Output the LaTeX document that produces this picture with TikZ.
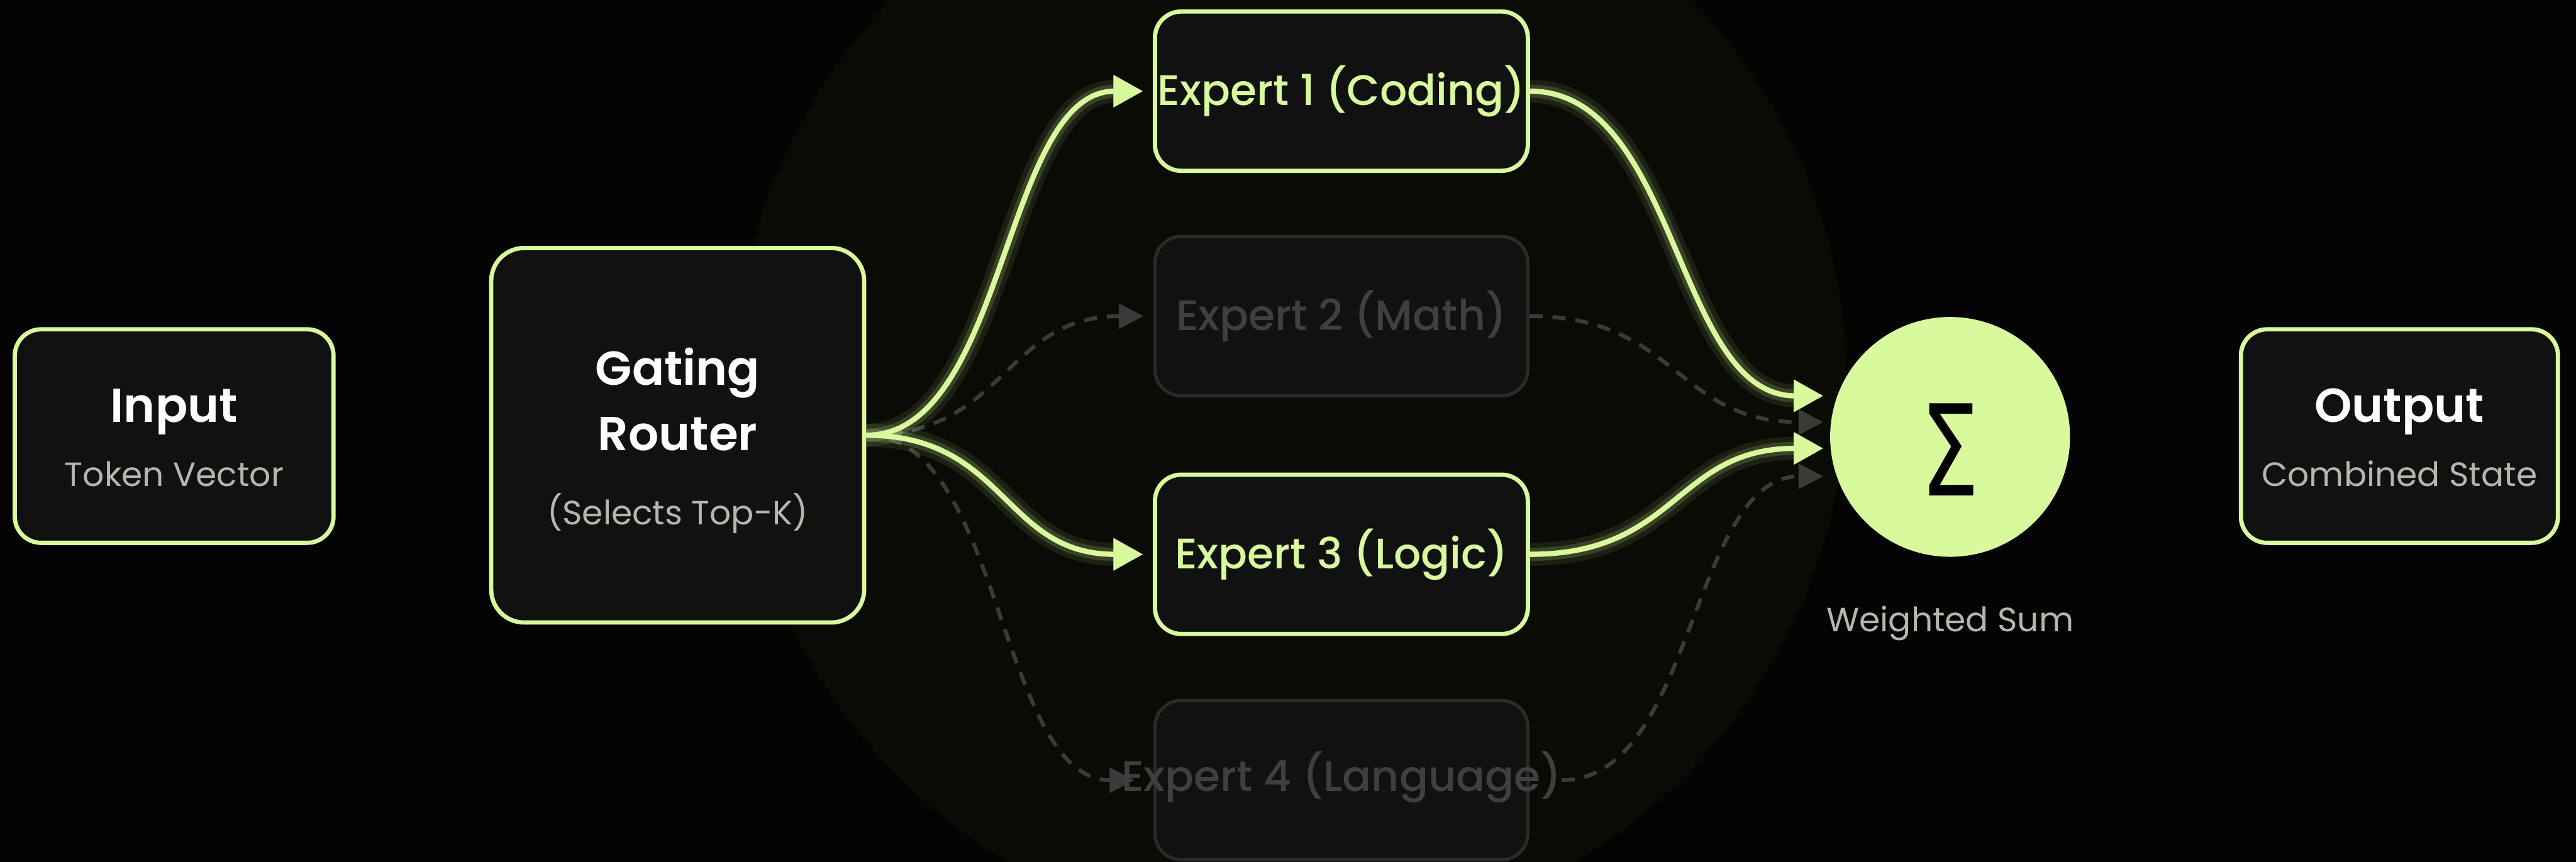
\documentclass[tikz,border=0pt]{standalone}
\usepackage{fontspec}
\setmainfont{Poppins}
\newfontfamily\medfont{Poppins Medium}
\newfontfamily\semifont{Poppins SemiBold}
\newfontfamily\sigfont{DejaVu Sans}
\usetikzlibrary{arrows.meta,positioning,backgrounds}
\definecolor{mlime}{HTML}{D9F99D}
\definecolor{bgc}{HTML}{040404}
\definecolor{halo}{HTML}{0A0B05}
\definecolor{boxfill}{HTML}{111111}
\definecolor{subc}{HTML}{B2B8AC}
\definecolor{idle}{HTML}{2A2A2A}
\definecolor{idletxt}{HTML}{3F3F3F}
\definecolor{idleln}{HTML}{3A3A3A}
\tikzset{
  box/.style={draw=mlime,line width=2.6pt,rounded corners=16pt,fill=boxfill,inner sep=0pt},
  ibox/.style={box,draw=idle,line width=2pt},
  xbox/.style={box,minimum width=227pt,minimum height=97pt,font=\medfont\fontsize{26}{30}\selectfont,text=mlime},
  ttl/.style={font=\semifont\fontsize{29}{34}\selectfont,text=white,anchor=base,inner sep=0pt},
  sub/.style={font=\fontsize{20.5}{24}\selectfont,text=subc,anchor=base,inner sep=0pt},
  live/.style={draw=mlime,line width=3.2pt,-{Triangle[length=18pt,width=19pt]},
    preaction={draw=mlime,line width=14pt,opacity=0.09},
    preaction={draw=mlime,line width=8pt,opacity=0.16}},
  idl/.style={draw=idleln,line width=2.4pt,dash pattern=on 8pt off 6pt,-{Triangle[length=15pt,width=15pt]}},
}

\begin{document}
\begin{tikzpicture}[x=1pt,y=-1pt]
\useasboundingbox (0,0) rectangle (1568,524.8);
\begin{pgfonlayer}{background}
\fill[bgc] (0,0) rectangle (1568,524.8);
\fill[halo] (786,234) circle [radius=338pt];
\end{pgfonlayer}

% ---- input and router ----
\node[box,minimum width=194pt,minimum height=130pt] (inp) at (106,265.5) {};
\node[ttl] (inpT) at (106,257) {Input};
\node[sub] (inpS) at (106,296) {Token Vector};

\node[box,rounded corners=20pt,minimum width=227pt,minimum height=228pt] (gate) at (412.5,265) {};
\node[ttl] (gateA) at (412.5,234.4) {Gating};
\node[ttl] (gateB) at (412.5,274.4) {Router};
\node[sub] (gateC) at (412.5,319.5) {(Selects Top-K)};

% ---- experts ----
\node[xbox] (e1) at (816.5,55.5) {Expert 1 (Coding)};
\node[xbox,ibox,text=idletxt] (e2) at (816.5,192.5) {Expert 2 (Math)};
\node[xbox] (e3) at (816.5,337.5) {Expert 3 (Logic)};
% text of expert 4 is wider than its box
\node[xbox,ibox] (e4) at (816.5,475) {};
\node[font=\medfont\fontsize{26}{30}\selectfont,text=idletxt,inner sep=0pt] (e4T) at (816.5,473) {Expert 4 (Language)};

% ---- sum and output ----
\node[circle,fill=mlime,minimum size=146pt,inner sep=0pt] (sum) at (1187,266) {};
\node[font=\sigfont\fontsize{77}{77}\selectfont,anchor=base,inner sep=0pt] (sig) at (1187,302) {\scalebox{0.74}[1]{Σ}};
\node[sub] (wsum) at (1187,384.5) {Weighted Sum};

\node[box,minimum width=193pt,minimum height=130pt] (out) at (1460.5,265.5) {};
\node[ttl] (outT) at (1460.5,257) {Output};
\node[sub] (outS) at (1460.5,296) {Combined State};

% ---- routes ----
\begin{pgfonlayer}{background}
\draw[idl] (gate.east) .. controls +(85,0) and +(-85,0) .. ([xshift=-6pt]e2.west);
\draw[idl] (gate.east) .. controls +(83,0) and +(-83,0) .. ([xshift=8pt,yshift=-2pt]e4T.west);
\draw[idl] (e2.east) .. controls +(90,0) and +(-90,0) .. ([xshift=-4pt,yshift=9pt]sum.west);
\draw[idl] ([yshift=-2pt]e4T.east) .. controls +(81,0) and +(-81,0) .. ([xshift=-4pt,yshift=-24pt]sum.west);
\draw[live] (gate.east) .. controls +(85,0) and +(-85,0) .. ([xshift=-6pt]e1.west);
\draw[live] (gate.east) .. controls +(85,0) and +(-85,0) .. ([xshift=-6pt]e3.west);
\draw[live] (e1.east) .. controls +(90,0) and +(-90,0) .. ([xshift=-4pt,yshift=25pt]sum.west);
\draw[live] (e3.east) .. controls +(90,0) and +(-90,0) .. ([xshift=-4pt,yshift=-7pt]sum.west);
\end{pgfonlayer}
\end{tikzpicture}
\end{document}
